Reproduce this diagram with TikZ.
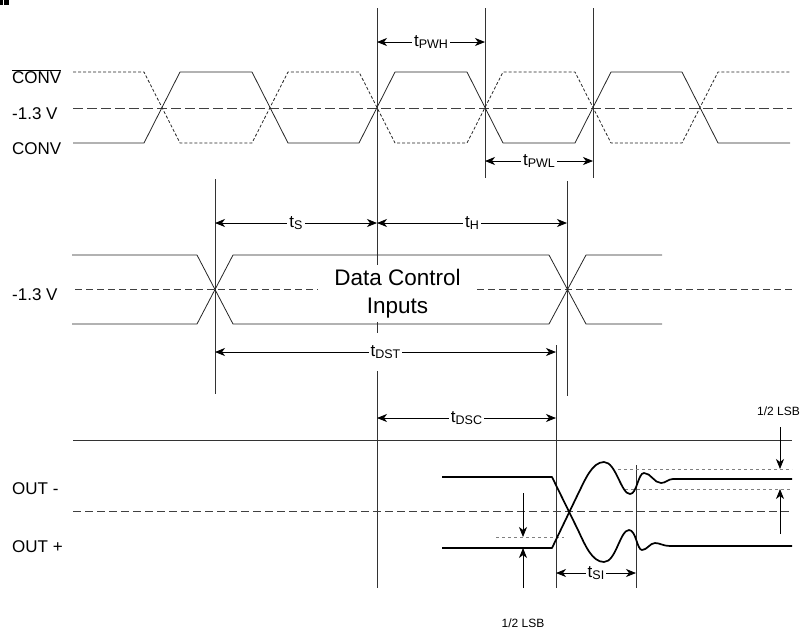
\documentclass[tikz,border=0pt]{standalone}
\usepackage{fontspec}
\setmainfont{Liberation Sans}
\usetikzlibrary{arrows.meta}

\newcommand{\tsig}[1]{t\raisebox{-2.5pt}{\fontsize{12.5}{13}\selectfont#1}}

\tikzset{
  >={Stealth[length=10pt,width=8pt,inset=3pt]},
  tline/.style={line width=0.8pt, black!80},
  sig/.style={line width=0.8pt, black!85, line join=round},
  sigbar/.style={sig, dash pattern=on 3pt off 2pt},
  refline/.style={line width=0.8pt, black!75, dash pattern=on 10pt off 4pt},
  trace/.style={line width=1.7pt, line join=round},
  band/.style={line width=0.7pt, black!50, dash pattern=on 3pt off 3pt},
  dimarrow/.style={line width=0.8pt, <->},
  oneway/.style={line width=0.8pt, ->},
  tlab/.style={fill=white, inner sep=2pt},
  siglab/.style={anchor=base west, inner sep=0pt},
  lsblab/.style={font=\fontsize{12}{14}\selectfont, inner sep=0pt},
}

\begin{document}
\begin{tikzpicture}[x=1pt, y=-1pt, font=\fontsize{17}{20}\selectfont]
  \useasboundingbox (0,0) rectangle (803,630);

  % Corner mark
  \fill (0,0) rectangle (3,5);
  \fill (4,0) rectangle (9,5);

  % Edge positions
  \coordinate (eS) at (215,0);
  \coordinate (eC) at (377,0);
  \coordinate (eL) at (485,0);
  \coordinate (eR) at (593,0);
  \coordinate (eD) at (556,0);
  \coordinate (eH) at (567,0);
  \coordinate (eI) at (636,0);
  \coordinate (lsbL) at (523,0);
  \coordinate (lsbR) at (780,0);

  % Timing lines
  \draw[tline] (eC |- 0,8) -- (eC |- 0,588);
  \draw[tline] (eL |- 0,8) -- (eL |- 0,178);
  \draw[tline] (eR |- 0,8) -- (eR |- 0,178);
  \draw[tline] (eS |- 0,179) -- (eS |- 0,394);
  \draw[tline] (eH |- 0,181) -- (eH |- 0,396);
  \draw[tline] (eD |- 0,345) -- (eD |- 0,588);
  \draw[tline] (eI |- 0,465) -- (eI |- 0,588);

  % CONV inputs
  \node[siglab] (convbar) at (12,83) {$\overline{\mbox{CONV}}$};
  \node[siglab] (vrefA) at (12,119) {-1.3 V};
  \node[siglab] (conv) at (12,154) {CONV};
  \draw[refline] (73,108) -- (792,108);
  \draw[sig] (73,143) -- (144,143) -- (180,72) -- (252,72) -- (288,143)
    -- (359,143) -- (395,72) -- (467,72) -- (503,143) -- (575,143)
    -- (611,72) -- (682,72) -- (718,143) -- (790,143);
  \draw[sigbar] (73,72) -- (144,72) -- (180,143) -- (252,143) -- (288,72)
    -- (359,72) -- (395,143) -- (467,143) -- (503,72) -- (575,72)
    -- (611,143) -- (682,143) -- (718,72) -- (790,72);

  \draw[dimarrow] (eC |- 0,42) -- node[tlab] (pwh) {\tsig{PWH}} (eL |- 0,42);
  \draw[dimarrow] (eL |- 0,161) -- node[tlab] (pwl) {\tsig{PWL}} (eR |- 0,161);

  % Data control inputs
  \node[siglab] (vrefB) at (12,300) {-1.3 V};
  \draw[refline, dash pattern=on 7pt off 4pt] (75,289) -- (318,289);
  \draw[refline, dash pattern=on 7pt off 4pt] (477,289) -- (792,289);
  \draw[sig] (72,255) -- (197,255) -- (233,324) -- (549,324) -- (586,255) -- (662,255);
  \draw[sig] (72,324) -- (197,324) -- (233,255) -- (549,255) -- (586,324) -- (662,324);
  \node[align=center, fill=white, inner sep=0pt, minimum width=159pt, minimum height=57pt,
    font=\fontsize{22.5}{28.5}\selectfont] (dci) at (397.5,293.5) {Data Control\\Inputs};

  \draw[dimarrow] (eS |- 0,223) -- node[tlab] (ts) {\tsig{S}} (eC |- 0,223);
  \draw[dimarrow] (eC |- 0,223) -- node[tlab] (th) {\tsig{H}} (eH |- 0,223);
  \draw[dimarrow] (eS |- 0,352) -- node[tlab, inner ysep=12pt] (tdst) {\tsig{DST}} (eD |- 0,352);

  % Outputs
  \node[siglab] (outm) at (12,494) {OUT -};
  \node[siglab] (outp) at (12,552) {OUT +};
  \draw[tline] (73,440) -- (792,440);
  \draw[refline, dash pattern=on 8pt off 4pt] (73,511) -- (792,511);
  \draw[dimarrow] (eC |- 0,418) -- node[tlab] (tdsc) {\tsig{DSC}} (eD |- 0,418);

  % Settling bands
  \draw[band] (618,469) -- (792,469);
  \draw[band] (625,489) -- (792,489);
  \draw[band] (496,537) -- (564,537);

  % Output traces
  \draw[trace] (442,477) -- (552,477) -- (578,530)
    .. controls (585,545) and (592,562) .. (604,562)
    .. controls (616,562) and (620,530) .. (629,530)
    .. controls (636,530) and (637,550) .. (642,550)
    .. controls (647,550) and (650,543) .. (655,543)
    .. controls (660,543) and (663,546) .. (670,546) -- (792,546);
  \draw[trace] (442,548) -- (552,548) -- (578,494)
    .. controls (585,480) and (592,462) .. (604,462)
    .. controls (616,462) and (621,494) .. (630,494)
    .. controls (637,494) and (638,473) .. (644,473)
    .. controls (651,473) and (654,483) .. (661,483)
    .. controls (666,483) and (668,479) .. (673,479) -- (792,479);

  \draw[dimarrow] (eD |- 0,573) -- node[tlab] (tsi) {\tsig{SI}} (eI |- 0,573);

  % 1/2 LSB markers
  \draw[oneway] (lsbL |- 0,493) -- (lsbL |- 0,537);
  \draw[oneway] (lsbL |- 0,588) -- (lsbL |- 0,548);
  \node[lsblab, anchor=base] (lsbbot) at (523,627) {1/2 LSB};
  \draw[oneway] (lsbR |- 0,427) -- (lsbR |- 0,469);
  \draw[oneway] (lsbR |- 0,534) -- (lsbR |- 0,489);
  \node[lsblab, anchor=base west] (lsbtop) at (757,415) {1/2 LSB};
\end{tikzpicture}
\end{document}
